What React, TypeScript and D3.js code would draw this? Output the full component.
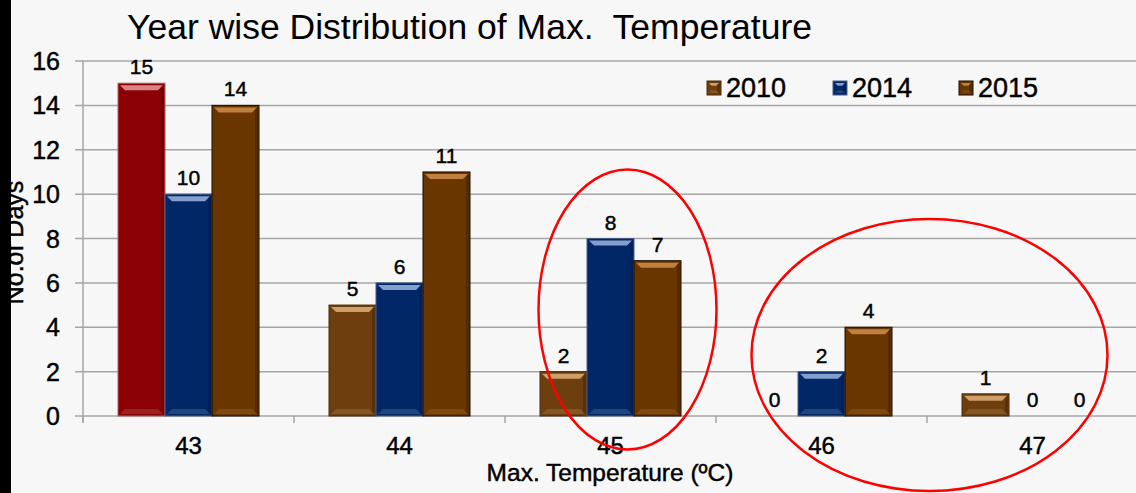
import React from 'react';
import * as d3 from 'd3';

const categories = ['43', '44', '45', '46', '47'];
const years = ['2010', '2014', '2015'];
const values2010 = [15, 5, 2, 0, 1];
const values2014 = [10, 6, 8, 2, 0];
const values2015 = [14, 11, 7, 4, 0];
const yTicks = [0, 2, 4, 6, 8, 10, 12, 14, 16];

const W = 1136;
const H = 493;
const FONT = '"Liberation Sans", Arial, sans-serif';

const colors: { [k: string]: { base: string; light: string; dark: string; edge: string } } = {
  '2010': { base: '#6e3f0e', light: '#f0c08a', dark: '#3e2005', edge: '#4a2a0a' },
  '2014': { base: '#022766', light: '#b0c8f0', dark: '#011844', edge: '#4a5f88' },
  '2015': { base: '#6a3600', light: '#e09a55', dark: '#3a1c00', edge: '#1a0d00' },
  red: { base: '#8a0004', light: '#f4b0b0', dark: '#5a0000', edge: '#b06060' },
};

// bar with a small bevel, like the office chart style
function Bar({ x, y, w, h, c }: { x: number; y: number; w: number; h: number; c: any }) {
  if (h <= 0) return null;
  const b = Math.min(7, h / 3);
  return (
    <g>
      <rect x={x} y={y} width={w} height={h} fill={c.base} stroke={c.edge} strokeWidth={1} />
      <polygon
        points={`${x + 2},${y + 2} ${x + w - 2},${y + 2} ${x + w - b},${y + b} ${x + b},${y + b}`}
        fill={c.light}
        opacity={0.75}
      />
      <polygon
        points={`${x + 2},${y + h - 2} ${x + w - 2},${y + h - 2} ${x + w - b},${y + h - b} ${x + b},${y + h - b}`}
        fill={c.light}
        opacity={0.18}
      />
      <polygon
        points={`${x + w - 1},${y + 1} ${x + w - 1},${y + h - 1} ${x + w - 4},${y + h - 4} ${x + w - 4},${y + 4}`}
        fill={c.dark}
        opacity={0.45}
      />
    </g>
  );
}

export default function App() {
  const x0 = d3.scaleBand<string>().domain(categories).range([83, 1138]).paddingInner(0).paddingOuter(0);
  const x1 = d3.scaleBand<string>().domain(years).range([0, 141]);
  const groupOffset = (x0.bandwidth() - 141) / 2;
  const y = d3.scaleLinear().domain([0, 16]).range([416, 61]);

  const series: { [k: string]: number[] } = { '2010': values2010, '2014': values2014, '2015': values2015 };

  const legendX = [707, 833, 959];

  const ell1x = (x0('45') as number) + x0.bandwidth() / 2 + 17;
  const ell2x = (x0('46') as number) + x0.bandwidth() / 2 + 108;

  const ink = { fill: '#000', stroke: '#000', strokeWidth: 0.45 };

  return (
    <svg width={W} height={H} style={{ position: 'absolute', left: 0, top: 0, background: '#f7f7f7' }}>
      <rect x={0} y={0} width={W} height={H} fill="#f7f7f7" />

      {/* gridlines */}
      {yTicks.map((t) => (
        <line key={t} x1={75} x2={W} y1={y(t)} y2={y(t)} stroke="#a6a6a6" strokeWidth={1.5} />
      ))}
      <line x1={83} x2={83} y1={y(16)} y2={y(0) + 7} stroke="#a6a6a6" strokeWidth={1.5} />
      {categories.map((c) => (
        <line key={c} x1={x0(c) as number} x2={x0(c) as number} y1={y(0)} y2={y(0) + 7} stroke="#a6a6a6" strokeWidth={1.5} />
      ))}

      {/* y tick labels */}
      {yTicks.map((t) => (
        <text key={t} x={60} y={y(t) + 9} textAnchor="end" fontFamily={FONT} fontSize={25} {...ink}>
          {t}
        </text>
      ))}

      {/* bars */}
      {categories.map((c, i) =>
        years.map((yr) => {
          const v = series[yr][i];
          const bx = (x0(c) as number) + groupOffset + (x1(yr) as number);
          const col = yr === '2010' && i === 0 ? colors.red : colors[yr];
          return (
            <g key={c + yr}>
              <Bar x={bx} y={y(v)} w={x1.bandwidth()} h={y(0) - y(v)} c={col} />
              <text
                x={bx + x1.bandwidth() / 2}
                y={y(v) - 9}
                textAnchor="middle"
                fontFamily={FONT}
                fontSize={21}
                {...ink}
              >
                {v}
              </text>
            </g>
          );
        })
      )}

      {/* x tick labels */}
      {categories.map((c) => (
        <text
          key={c}
          x={(x0(c) as number) + x0.bandwidth() / 2}
          y={454}
          textAnchor="middle"
          fontFamily={FONT}
          fontSize={24}
          {...ink}
        >
          {c}
        </text>
      ))}

      {/* legend */}
      {years.map((yr, i) => (
        <g key={yr}>
          <Bar x={legendX[i]} y={81} w={14} h={14} c={colors[yr]} />
          <text x={legendX[i] + 19} y={97} fontFamily={FONT} fontSize={27} {...ink}>
            {yr}
          </text>
        </g>
      ))}

      {/* title */}
      <text
        x={127}
        y={39}
        fontFamily={FONT}
        fontSize={35}
        fill="#000"
        textLength={685}
        lengthAdjust="spacingAndGlyphs"
        style={{ whiteSpace: 'pre' }}
      >
        Year wise Distribution of Max.  Temperature
      </text>

      {/* axis titles */}
      <text x={610} y={481} textAnchor="middle" fontFamily={FONT} fontSize={24.5} {...ink}>
        Max. Temperature (ºC)
      </text>
      <text
        transform={`translate(23, ${y(8) + 4}) rotate(-90)`}
        textAnchor="middle"
        fontFamily={FONT}
        fontSize={25}
        {...ink}
      >
        No.of Days
      </text>

      {/* annotation ellipses */}
      <ellipse cx={ell1x} cy={y(4.8)} rx={89} ry={140} fill="none" stroke="#ff0000" strokeWidth={2.5} />
      <ellipse cx={ell2x} cy={y(2.75)} rx={178} ry={136} fill="none" stroke="#ff0000" strokeWidth={2.5} />

      {/* left black strip */}
      <rect x={0} y={0} width={11} height={H} fill="#000" />
    </svg>
  );
}
